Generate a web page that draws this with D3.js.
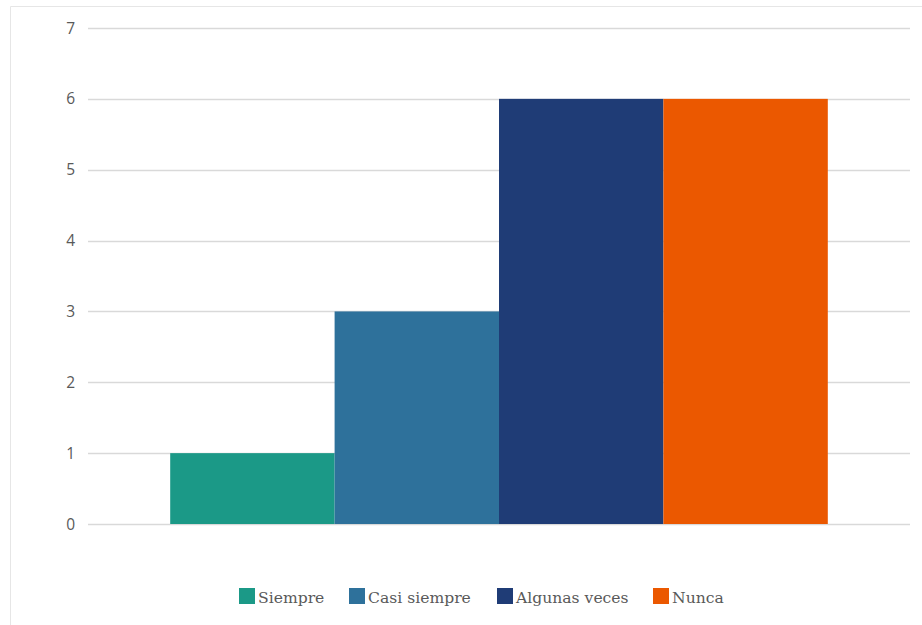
<!DOCTYPE html>
<html><head><meta charset="utf-8">
<script src="https://cdn.jsdelivr.net/npm/d3@7"></script>
<style>body{margin:0;background:#fff}svg{display:block}</style>
</head><body>
<script>
const categories = ["Siempre", "Casi siempre", "Algunas veces", "Nunca"];
const values = [1, 3, 6, 6];
const colors = ["#1b9987", "#2e719b", "#1f3c76", "#eb5800"];
const yTicks = [0, 1, 2, 3, 4, 5, 6, 7];

const W = 922, H = 625;
const svg = d3.select("body").append("svg").attr("width", W).attr("height", H);

// frame
svg.append("path").attr("d", "M10.5,625 L10.5,6.5 L922,6.5")
  .attr("fill", "none").attr("stroke", "#e6e6e6").attr("stroke-width", 1);

const x = d3.scaleBand().domain(categories).range([88, 910]).paddingInner(0).paddingOuter(0.5);
const y = d3.scaleLinear().domain([0, 7]).range([524, 28]);

const grid = svg.append("g");
grid.selectAll("line").data(yTicks).join("line")
  .attr("x1", 88).attr("x2", 910)
  .attr("y1", d => Math.round(y(d)) + 0.5).attr("y2", d => Math.round(y(d)) + 0.5)
  .attr("stroke", "#d9d9d9").attr("stroke-width", 1.4);

svg.append("g").selectAll("text").data(yTicks).join("text")
  .attr("x", 75).attr("y", d => y(d) + 5.5)
  .attr("text-anchor", "end")
  .attr("font-family", "'Open Sans', sans-serif").attr("font-size", 15.5)
  .attr("fill", "#595959").text(d => d);

svg.append("g").selectAll("rect").data(categories).join("rect")
  .attr("x", d => x(d)).attr("width", x.bandwidth())
  .attr("y", (d, i) => y(values[i])).attr("height", (d, i) => y(0) - y(values[i]))
  .attr("fill", (d, i) => colors[i]);

// legend
const legX = [239, 349, 497, 653];
const leg = svg.append("g");
categories.forEach((c, i) => {
  leg.append("rect").attr("x", legX[i]).attr("y", 588).attr("width", 16).attr("height", 16)
    .attr("fill", colors[i]);
  leg.append("text").attr("x", legX[i] + 19).attr("y", 602.5)
    .attr("font-family", "'DejaVu Serif', serif").attr("font-size", 15.6)
    .attr("fill", "#595959").text(c);
});
</script>
</body></html>
